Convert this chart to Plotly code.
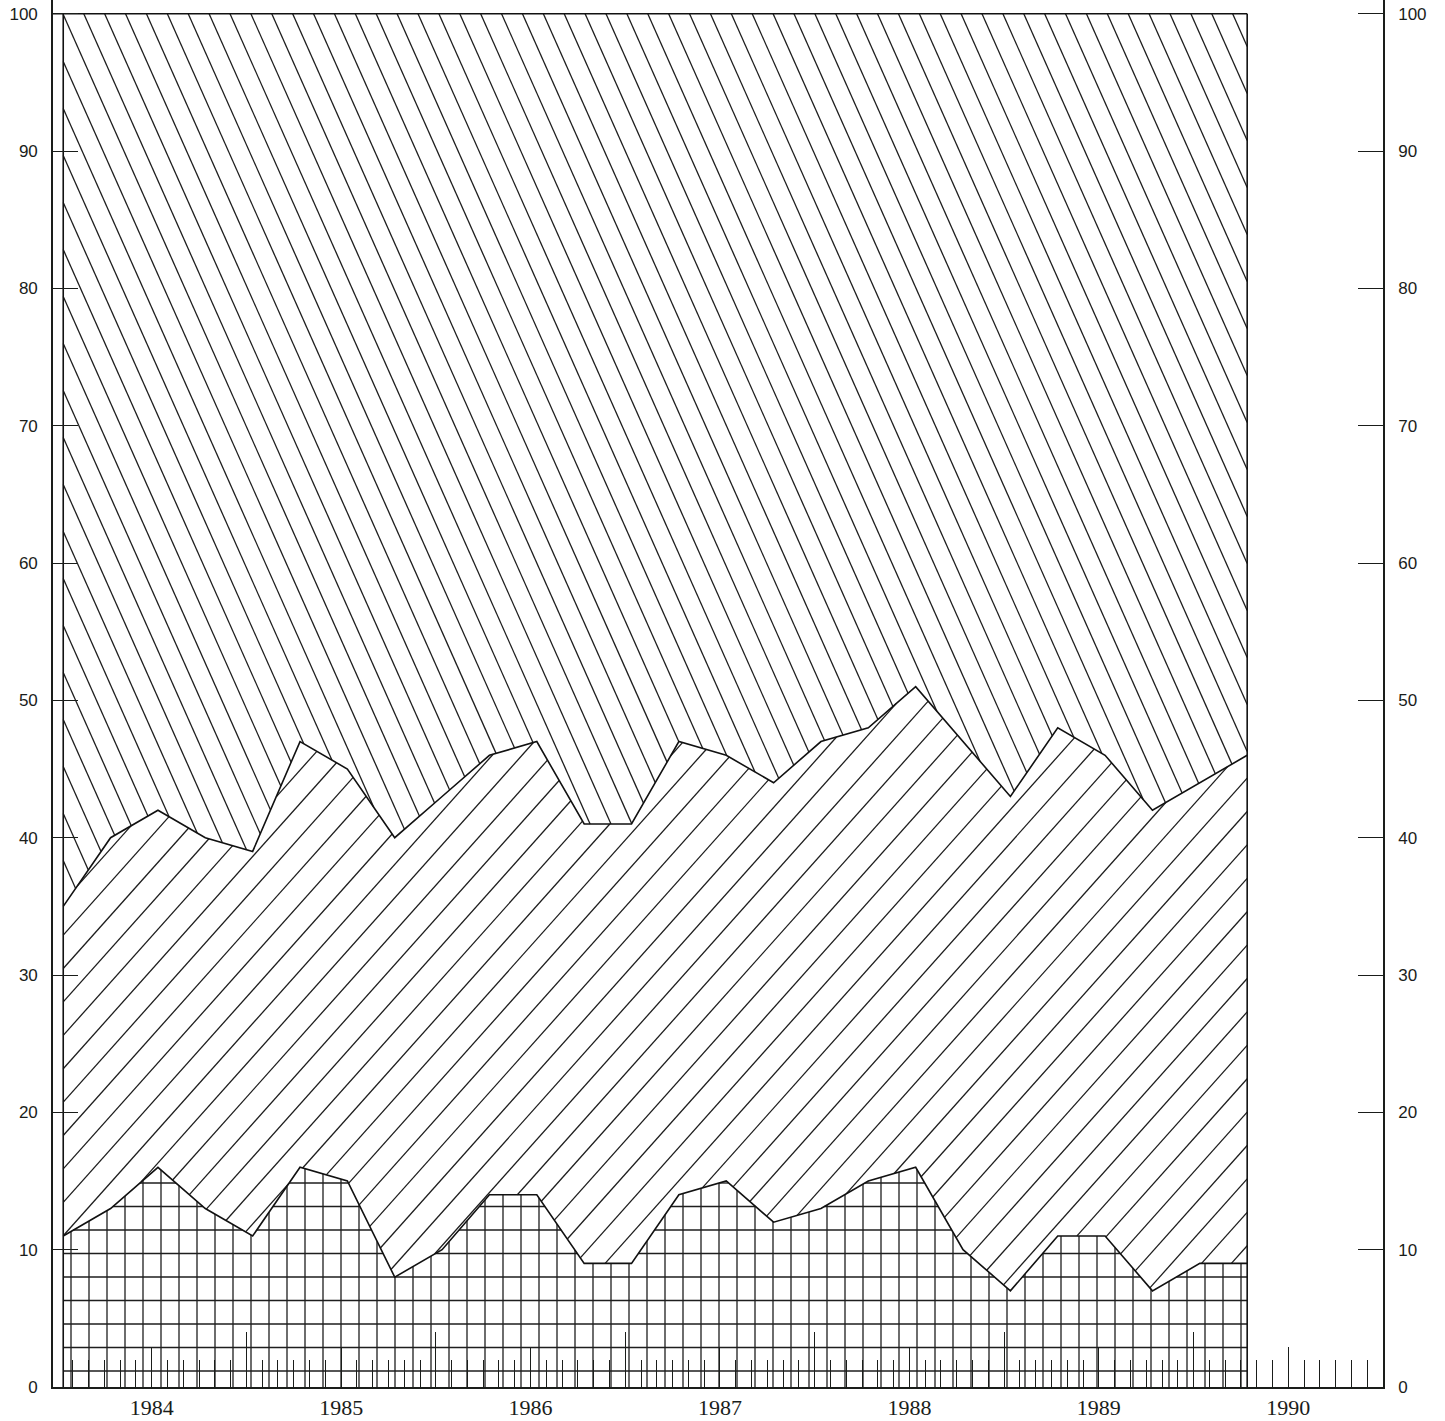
import numpy as np
import plotly.graph_objects as go

# ---------------- data (percent shares, quarterly) ----------------
QUARTERS = [
    "1984 Q1", "1984 Q2", "1984 Q3", "1984 Q4",
    "1985 Q1", "1985 Q2", "1985 Q3", "1985 Q4",
    "1986 Q1", "1986 Q2", "1986 Q3", "1986 Q4",
    "1987 Q1", "1987 Q2", "1987 Q3", "1987 Q4",
    "1988 Q1", "1988 Q2", "1988 Q3", "1988 Q4",
    "1989 Q1", "1989 Q2", "1989 Q3", "1989 Q4",
    "1990 Q1", "1990 Q2",
]
SERIES_GRID = [11, 13, 16, 13, 11, 16, 15, 8, 10, 14, 14, 9, 9,
               14, 15, 12, 13, 15, 16, 10, 7, 11, 11, 7, 9, 9]
SERIES_FWD = [24, 27, 26, 27, 28, 31, 30, 32, 33, 32, 33, 32, 32,
              33, 31, 32, 34, 33, 35, 37, 36, 37, 35, 35, 35, 37]
SERIES_BACK = [65, 60, 58, 60, 61, 53, 55, 60, 57, 54, 53, 59, 59,
               53, 54, 56, 53, 52, 49, 53, 57, 52, 54, 58, 56, 54]
Y_TICKS = [0, 10, 20, 30, 40, 50, 60, 70, 80, 90, 100]
YEAR_LABELS = ["1984", "1985", "1986", "1987", "1988", "1989", "1990"]

# ---------------- layout geometry ----------------
WIDTH, HEIGHT = 1445, 1421
ML, MR, MT, MB = 53, 62, 0, 34
PW = WIDTH - ML - MR
PH = HEIGHT - MT - MB
XMIN, XMAX = 1983.979, 1991.0
YMIN, YMAX = 0.0, 101.0
INK = "#1a1d1a"


def qx(label):
    y, q = label.split(" Q")
    return int(y) + (int(q) - 1) * 0.25 + 0.033


X = np.array([qx(q) for q in QUARTERS])
cum1 = np.array(SERIES_GRID, float)
cum2 = cum1 + np.array(SERIES_FWD, float)
cum3 = cum2 + np.array(SERIES_BACK, float)


def to_px(x, y):
    return (ML + (x - XMIN) / (XMAX - XMIN) * PW,
            MT + (YMAX - y) / (YMAX - YMIN) * PH)


def to_data(px, py):
    return (XMIN + (px - ML) / PW * (XMAX - XMIN),
            YMAX - (py - MT) / PH * (YMAX - YMIN))


def band_polygon(lower, upper):
    pts = [to_px(x, y) for x, y in zip(X, lower)]
    pts += [to_px(x, y) for x, y in zip(X[::-1], upper[::-1])]
    return np.array(pts)


def hatch(poly, direction, perp, ref):
    d = np.array(direction, float)
    d /= np.linalg.norm(d)
    n = np.array([-d[1], d[0]])
    proj = poly @ n
    cref = np.array(ref, float) @ n
    j0 = int(np.floor((proj.min() - cref) / perp)) - 1
    j1 = int(np.ceil((proj.max() - cref) / perp)) + 1
    xs, ys = [], []
    m = len(poly)
    for j in range(j0, j1 + 1):
        c = cref + j * perp + 1e-6
        s = proj - c
        us = []
        for i in range(m):
            a, b = i, (i + 1) % m
            if (s[a] > 0) != (s[b] > 0):
                t = s[a] / (s[a] - s[b])
                q = poly[a] + t * (poly[b] - poly[a])
                us.append(q @ d)
        us.sort()
        for k in range(0, len(us) - 1, 2):
            for u in (us[k], us[k + 1]):
                p = c * n + u * d
                dx, dy = to_data(p[0], p[1])
                xs.append(dx)
                ys.append(dy)
            xs.append(None)
            ys.append(None)
    return xs, ys


zero = np.zeros_like(cum1)
poly_grid = band_polygon(zero, cum1)
poly_fwd = band_polygon(cum1, cum2)
poly_back = band_polygon(cum2, cum3)

fig = go.Figure()


def add_lines(xs, ys, width=1.3, color="#1e1e1e"):
    fig.add_trace(go.Scatter(x=xs, y=ys, mode="lines", hoverinfo="skip",
                             showlegend=False, connectgaps=False,
                             line=dict(color=color, width=width)))


# grid pattern (bottom band)
gx, gy = hatch(poly_grid, (0, 1), 18.0, (71, 0))
add_lines(gx, gy)
hx, hy = hatch(poly_grid, (1, 0), 23.5, (0, 1371))
add_lines(hx, hy)
# "/" hatching (middle band)
s_mid = 1.12
fx, fy = hatch(poly_fwd, (1, -s_mid), 33.4 / np.hypot(1, s_mid), (63, 902))
add_lines(fx, fy)
# "\" hatching (top band)
s_top = 2.25
bx, by = hatch(poly_back, (1, s_top), 47.0 / np.hypot(1, s_top), (63, 14))
add_lines(bx, by)

# boundaries
add_lines(list(X), list(cum1), 1.6, "#111")
add_lines(list(X), list(cum2), 1.6, "#111")
add_lines([XMIN, X[-1]], [cum3[0], cum3[-1]], 1.6, "#111")
add_lines([X[0], X[0]], [0, cum3[0]], 1.6, "#111")
add_lines([X[-1], X[-1]], [0, cum3[-1]], 1.6, "#111")

# dummy trace for secondary axes
fig.add_trace(go.Scatter(x=[None], y=[None], xaxis="x2", yaxis="y2",
                         showlegend=False, hoverinfo="skip"))

years = list(range(1985, 1991))
quarter_vals = [1984 + 0.25 * i for i in range(1, 28)]
quarter_text = []
for v in quarter_vals:
    frac = round(v - int(v), 2)
    yr = str(int(v))
    quarter_text.append(yr if (frac == 0.5 and yr in YEAR_LABELS) else "")
month_vals = [1984 + i / 12 for i in range(1, 84)]

fig.update_layout(
    width=WIDTH, height=HEIGHT,
    margin=dict(l=ML, r=MR, t=MT, b=MB, pad=0),
    paper_bgcolor="white", plot_bgcolor="white",
    showlegend=False,
    xaxis=dict(range=[XMIN, XMAX], showgrid=False, zeroline=False,
               showline=True, linecolor=INK, linewidth=1.6,
               ticks="inside", tickmode="array", tickvals=quarter_vals,
               ticktext=quarter_text, ticklen=40, tickwidth=1.3,
               tickcolor=INK,
               tickfont=dict(family="Liberation Serif", size=22, color=INK),
               ticklabelstandoff=0,
               minor=dict(ticks="inside", tickmode="array",
                          tickvals=month_vals, ticklen=27, tickwidth=1.2,
                          tickcolor=INK, showgrid=False)),
    xaxis2=dict(range=[XMIN, XMAX], overlaying="x", anchor="y",
                side="bottom", showgrid=False, zeroline=False,
                showline=False, ticks="inside", tickmode="array",
                tickvals=years, ticklen=55, tickwidth=1.3, tickcolor=INK,
                showticklabels=False),
    yaxis=dict(range=[YMIN, YMAX], showgrid=False, zeroline=False,
               showline=True, linecolor=INK, linewidth=1.6,
               ticks="inside", tickmode="array", tickvals=Y_TICKS,
               ticklen=25, tickwidth=1.3, tickcolor=INK,
               tickfont=dict(family="Liberation Sans", size=17, color=INK),
               ticklabelstandoff=10),
    yaxis2=dict(range=[YMIN, YMAX], overlaying="y", anchor="x",
                side="right", showgrid=False, zeroline=False,
                showline=True, linecolor=INK, linewidth=1.6,
                ticks="inside", tickmode="array", tickvals=Y_TICKS,
                ticklen=25, tickwidth=1.3, tickcolor=INK,
                tickfont=dict(family="Liberation Sans", size=17, color=INK),
                ticklabelstandoff=10),
)

fig.write_html("out.html", config={"displayModeBar": False},
               post_script="document.body.style.margin='0';")
